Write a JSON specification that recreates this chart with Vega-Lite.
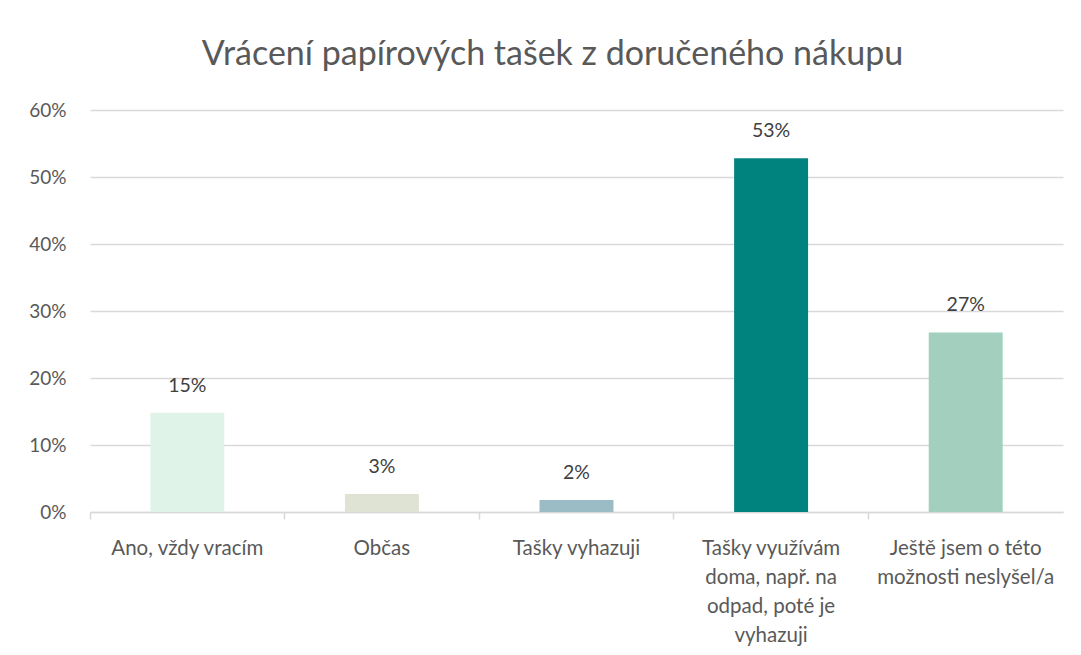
{
  "$schema": "https://vega.github.io/schema/vega-lite/v6.json",
  "width": 973,
  "height": 402,
  "autosize": "none",
  "padding": {"left": 90, "top": 110, "right": 18, "bottom": 143},
  "background": "white",
  "title": {
    "text": "Vrácení papírových tašek z doručeného nákupu",
    "font": "Lato",
    "fontSize": 34,
    "fontWeight": "normal",
    "color": "#595959",
    "anchor": "middle",
    "dx": -24,
    "offset": 29
  },
  "data": {
    "values": [
      {"odpoved": "Ano, vždy vracím", "podil": 0.148, "barva": "#DFF3E8"},
      {"odpoved": "Občas", "podil": 0.027, "barva": "#DFE3D4"},
      {"odpoved": "Tašky vyhazuji", "podil": 0.018, "barva": "#9BBBC5"},
      {"odpoved": "Tašky využívám doma, např. na odpad, poté je vyhazuji", "podil": 0.528, "barva": "#00827F"},
      {"odpoved": "Ještě jsem o této možnosti neslyšel/a", "podil": 0.268, "barva": "#A2CFBE"}
    ]
  },
  "config": {
    "view": {"stroke": null},
    "font": "Lato"
  },
  "encoding": {
    "x": {
      "field": "odpoved",
      "type": "nominal",
      "sort": null,
      "scale": {"paddingInner": 0, "paddingOuter": 0},
      "axis": {
        "title": null,
        "labelAngle": 0,
        "labelFont": "Lato",
        "labelFontSize": 20.5,
        "labelColor": "#595959",
        "labelPadding": 19,
        "labelLineHeight": 29,
        "labelBaseline": "top",
        "bandPosition": 0,
        "tickColor": "#D9D9D9",
        "tickSize": 7,
        "tickWidth": 1.5,
        "domainColor": "#D9D9D9",
        "domainWidth": 1.5,
        "labelExpr": "datum.value == 'Tašky využívám doma, např. na odpad, poté je vyhazuji' ? ['Tašky využívám', 'doma, např. na', 'odpad, poté je', 'vyhazuji'] : datum.value == 'Ještě jsem o této možnosti neslyšel/a' ? ['Ještě jsem o této', 'možnosti neslyšel/a'] : datum.label"
      }
    },
    "y": {
      "field": "podil",
      "type": "quantitative",
      "scale": {"domain": [0, 0.6]},
      "axis": {
        "title": null,
        "format": ".0%",
        "values": [0, 0.1, 0.2, 0.3, 0.4, 0.5, 0.6],
        "labelOverlap": false,
        "labelFont": "Lato",
        "labelFontSize": 19,
        "labelColor": "#595959",
        "labelPadding": 24,
        "ticks": false,
        "domain": false,
        "gridColor": "#D9D9D9",
        "gridWidth": 1.5
      }
    }
  },
  "layer": [
    {
      "mark": {"type": "bar", "width": {"band": 0.38}},
      "encoding": {
        "color": {"field": "barva", "type": "nominal", "scale": null, "legend": null}
      }
    },
    {
      "mark": {"type": "text", "baseline": "middle", "dy": -27, "fontSize": 19.5, "font": "Lato", "color": "#404040"},
      "encoding": {
        "text": {"field": "podil", "type": "quantitative", "format": ".0%"}
      }
    }
  ]
}
